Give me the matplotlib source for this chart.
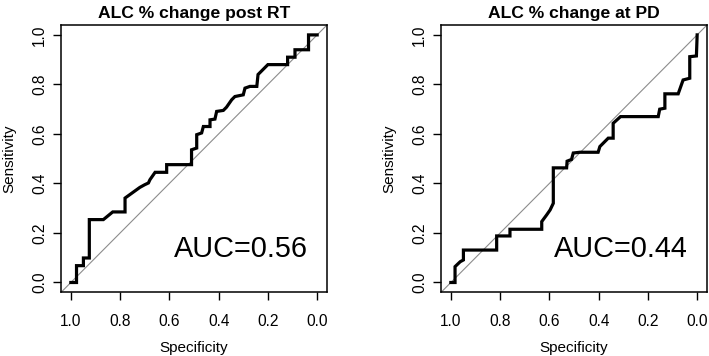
import matplotlib
matplotlib.use("Agg")
import matplotlib.pyplot as plt

plt.rcParams['font.family'] = ['Liberation Sans', 'DejaVu Sans']

titles = ["ALC % change post RT", "ALC % change at PD"]
auc_labels = ["AUC=0.56", "AUC=0.44"]
ticks = [0.0, 0.2, 0.4, 0.6, 0.8, 1.0]
tick_labels = ["0.0", "0.2", "0.4", "0.6", "0.8", "1.0"]

left_spec = [1.0, 0.977, 0.977, 0.949, 0.949, 0.925, 0.925, 0.868, 0.83, 0.78, 0.78,
             0.72, 0.70, 0.685, 0.679, 0.658, 0.611, 0.611, 0.510, 0.510, 0.489, 0.489,
             0.469, 0.462, 0.435, 0.435, 0.415, 0.408, 0.381, 0.368, 0.347, 0.334, 0.300,
             0.293, 0.273, 0.245, 0.24, 0.20, 0.12, 0.12, 0.09, 0.09, 0.035, 0.035, 0.0]
left_sens = [0.0, 0.0, 0.068, 0.068, 0.099, 0.099, 0.254, 0.254, 0.285, 0.285, 0.341,
             0.384, 0.395, 0.402, 0.415, 0.445, 0.445, 0.476, 0.476, 0.536, 0.543, 0.597,
             0.604, 0.630, 0.630, 0.657, 0.660, 0.691, 0.695, 0.708, 0.738, 0.751, 0.758,
             0.785, 0.792, 0.792, 0.84, 0.88, 0.88, 0.91, 0.91, 0.94, 0.94, 1.0, 1.0]

right_spec = [1.0, 0.983, 0.983, 0.962, 0.949, 0.949, 0.814, 0.814, 0.760, 0.760, 0.631,
              0.631, 0.611, 0.597, 0.584, 0.584, 0.530, 0.528, 0.51, 0.503, 0.476, 0.402,
              0.395, 0.361, 0.341, 0.341, 0.311, 0.158, 0.152, 0.131, 0.131, 0.077, 0.057,
              0.030, 0.030, 0.003, 0.0]
right_sens = [0.0, 0.0, 0.064, 0.084, 0.091, 0.131, 0.131, 0.188, 0.188, 0.215, 0.215,
              0.246, 0.273, 0.293, 0.32, 0.463, 0.463, 0.49, 0.497, 0.523, 0.526, 0.526,
              0.549, 0.583, 0.583, 0.643, 0.670, 0.670, 0.70, 0.704, 0.762, 0.762, 0.818,
              0.825, 0.912, 0.915, 1.0]

curves = [(left_spec, left_sens), (right_spec, right_sens)]

W, H = 709, 356
fig = plt.figure(figsize=(W / 100, H / 100), dpi=100)

box_lefts = [61, 441]
box_w = 266
box_top, box_bot = 25, 292.4

for i in range(2):
    ax = fig.add_axes([box_lefts[i] / W, (H - box_bot) / H, box_w / W, (box_bot - box_top) / H])
    ax.set_xlim(1.04, -0.04)
    ax.set_ylim(-0.04, 1.04)
    ax.plot([1.04, -0.04], [-0.04, 1.04], color='#8c8c8c', lw=0.8, zorder=1)
    spec, sens = curves[i]
    ax.plot(spec, sens, color='black', lw=2.3, solid_joinstyle='miter', zorder=2)
    ax.text(0.309, 0.102, auc_labels[i], ha='center', va='baseline', fontsize=20.8)
    ax.set_xticks(ticks)
    ax.set_xticklabels(tick_labels)
    ax.set_yticks(ticks)
    ax.set_yticklabels(tick_labels, rotation=90, va='center')
    ax.tick_params(axis='both', length=6, width=1, labelsize=11.2, colors='black')
    ax.tick_params(axis='x', pad=9.5)
    ax.tick_params(axis='y', pad=4)
    for s in ax.spines.values():
        s.set_linewidth(1.1)
    ax.set_xlabel("Specificity", fontsize=11, labelpad=8.5)
    ax.set_ylabel("Sensitivity", fontsize=11, labelpad=11)
    ax.set_title(titles[i], fontsize=12.6, fontweight='bold', pad=5)

fig.savefig("out.png", dpi=100)
